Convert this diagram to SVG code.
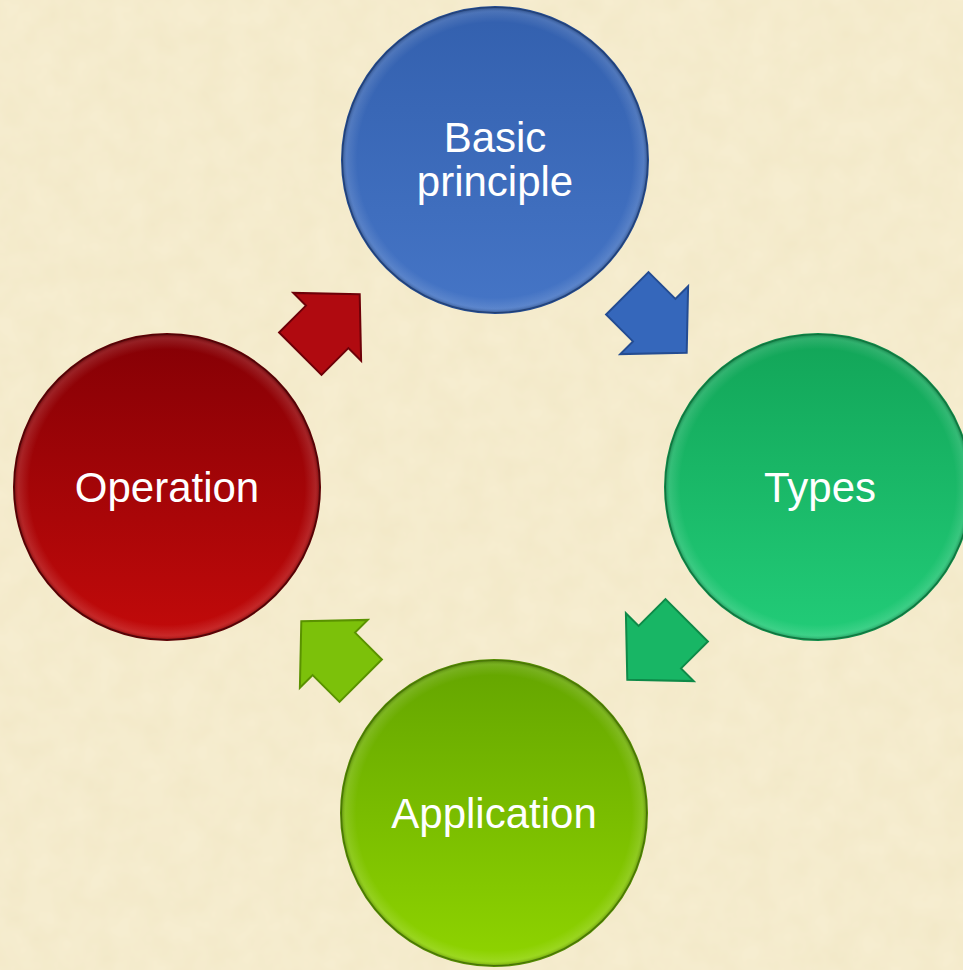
<svg xmlns="http://www.w3.org/2000/svg" width="963" height="970" viewBox="0 0 963 970">
<defs>
<filter id="tex" x="0" y="0" width="100%" height="100%">
<feTurbulence type="fractalNoise" baseFrequency="0.035" numOctaves="3" seed="4" result="n"/>
<feColorMatrix in="n" type="matrix" values="0 0 0 0 0.85  0 0 0 0 0.76  0 0 0 0 0.5  0 0 0 0.55 -0.1" result="c"/>
<feComposite in="c" in2="SourceGraphic" operator="over"/>
</filter>
<linearGradient id="gBlue" x1="0" y1="0" x2="0" y2="1">
<stop offset="0" stop-color="#3360AE"/><stop offset="1" stop-color="#4575C6"/>
</linearGradient>
<linearGradient id="gGreen" x1="0" y1="0" x2="0" y2="1">
<stop offset="0" stop-color="#12A558"/><stop offset="1" stop-color="#22CC78"/>
</linearGradient>
<linearGradient id="gRed" x1="0" y1="0" x2="0" y2="1">
<stop offset="0" stop-color="#850005"/><stop offset="1" stop-color="#C20A0A"/>
</linearGradient>
<linearGradient id="gLime" x1="0" y1="0" x2="0" y2="1">
<stop offset="0" stop-color="#64A500"/><stop offset="1" stop-color="#8FD400"/>
</linearGradient>
<radialGradient id="shine" cx="0.5" cy="0.5" r="0.5">
<stop offset="0.9" stop-color="#fff" stop-opacity="0"/>
<stop offset="0.97" stop-color="#fff" stop-opacity="0.12"/>
<stop offset="1" stop-color="#000" stop-opacity="0.25"/>
</radialGradient>
<path id="arw" d="M -42,-30 L -4,-30 L -4,-48 L 42,0 L -4,48 L -4,30 L -42,30 Z"/>
</defs>
<style>
.lbl{font-family:"Liberation Sans",Arial,sans-serif;font-size:42px;fill:#FFFFFF;text-anchor:middle}
.ring{stroke-width:2}
</style>
<rect x="0" y="0" width="963" height="970" fill="#F6EDD0" filter="url(#tex)"/>
<g id="connectors">
<use href="#arw" transform="translate(330,324) rotate(-45)" fill="#B00A10" stroke="#6E0008" stroke-width="2"/>
<use href="#arw" transform="translate(657,323) rotate(45)" fill="#3567BB" stroke="#244C92" stroke-width="2"/>
<use href="#arw" transform="translate(657,650) rotate(135)" fill="#18B665" stroke="#0E8A48" stroke-width="2"/>
<use href="#arw" transform="translate(331,651) rotate(-135)" fill="#7CC10A" stroke="#5A9200" stroke-width="2"/>
</g>
<g id="node-basic">
<circle cx="495" cy="160" r="153" fill="url(#gBlue)" class="ring" stroke="#234A8E"/>
<circle cx="495" cy="160" r="153" fill="url(#shine)"/>
<text class="lbl" x="495" y="152">Basic</text>
<text class="lbl" x="495" y="196">principle</text>
</g>
<g id="node-types">
<circle cx="818" cy="487" r="153" fill="url(#gGreen)" class="ring" stroke="#0E8A48"/>
<circle cx="818" cy="487" r="153" fill="url(#shine)"/>
<text class="lbl" x="820" y="502">Types</text>
</g>
<g id="node-application">
<circle cx="494" cy="813" r="153" fill="url(#gLime)" class="ring" stroke="#538A00"/>
<circle cx="494" cy="813" r="153" fill="url(#shine)"/>
<text class="lbl" x="494" y="828">Application</text>
</g>
<g id="node-operation">
<circle cx="167" cy="487" r="153" fill="url(#gRed)" class="ring" stroke="#5E0004"/>
<circle cx="167" cy="487" r="153" fill="url(#shine)"/>
<text class="lbl" x="167" y="502">Operation</text>
</g>
</svg>
